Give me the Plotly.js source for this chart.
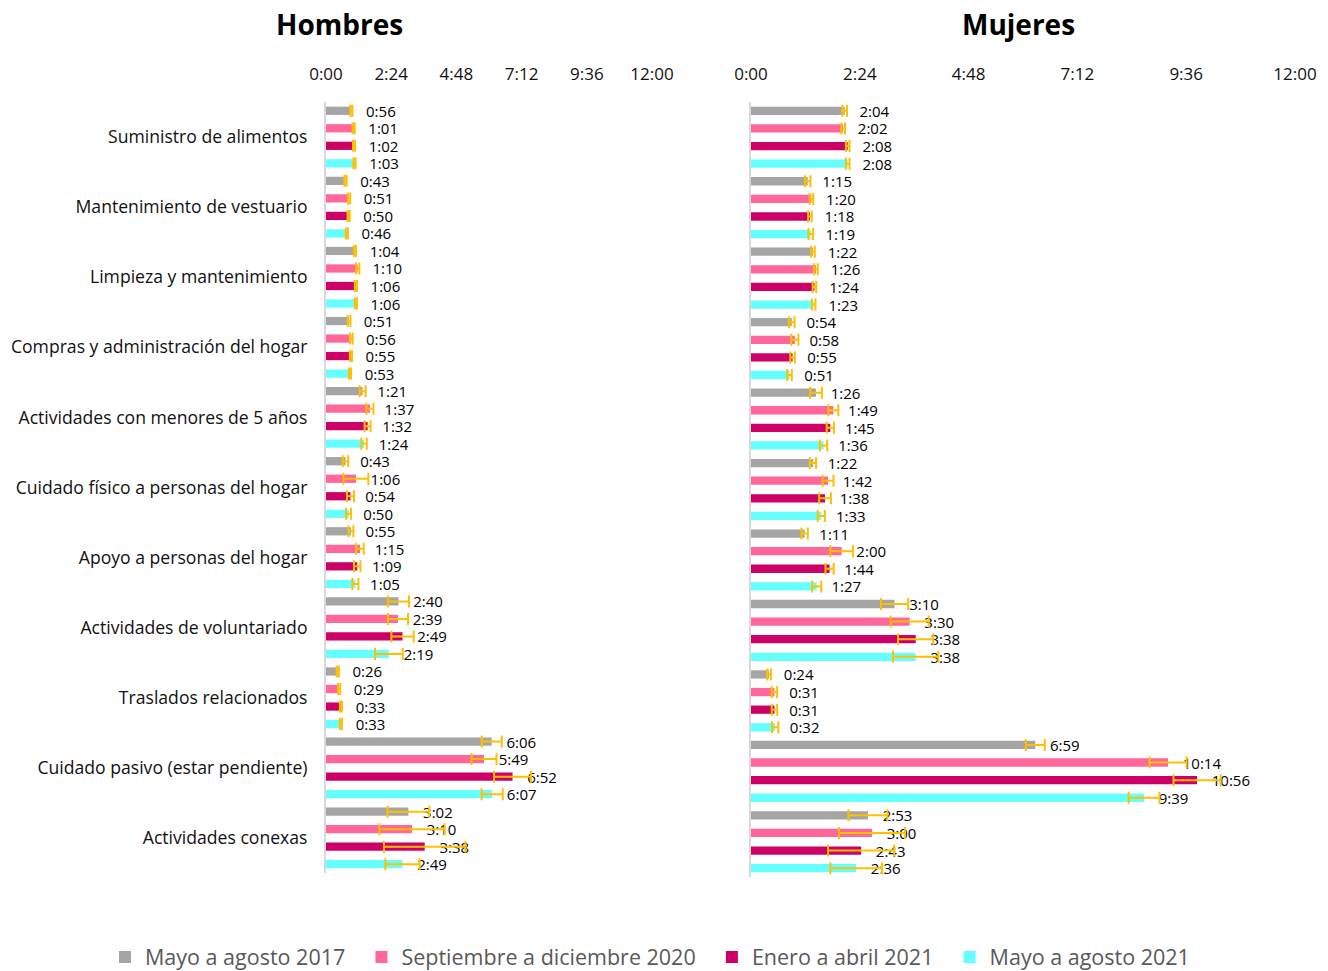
<!DOCTYPE html>
<html>
<head>
<meta charset="utf-8">
<script src="https://cdn.plot.ly/plotly-3.0.1.min.js"></script>
<style>html,body{margin:0;padding:0;background:#fff;}#chart{width:1328px;height:971px;}</style>
</head>
<body>
<div id="chart"></div>
<script>
// ---------- DATA (hours) ----------
const categories = [
  'Suministro de alimentos',
  'Mantenimiento de vestuario',
  'Limpieza y mantenimiento',
  'Compras y administración del hogar',
  'Actividades con menores de 5 años',
  'Cuidado físico a personas del hogar',
  'Apoyo a personas del hogar',
  'Actividades de voluntariado',
  'Traslados relacionados',
  'Cuidado pasivo (estar pendiente)',
  'Actividades conexas'
];
const periods = ['Mayo a agosto 2017', 'Septiembre a diciembre 2020', 'Enero a abril 2021', 'Mayo a agosto 2021'];

const tickVals = [0, 2.4, 4.8, 7.2, 9.6, 12];
const tickText = ['0:00', '2:24', '4:48', '7:12', '9:36', '12:00'];

// Hombres
const hom2017 = [0.933, 0.717, 1.067, 0.85, 1.35, 0.717, 0.917, 2.667, 0.433, 6.1, 3.033];
const hom2020 = [1.017, 0.85, 1.167, 0.933, 1.617, 1.1, 1.25, 2.65, 0.483, 5.817, 3.167];
const hom2021a = [1.033, 0.833, 1.1, 0.917, 1.533, 0.9, 1.15, 2.817, 0.55, 6.867, 3.633];
const hom2021b = [1.05, 0.767, 1.1, 0.883, 1.4, 0.833, 1.083, 2.317, 0.55, 6.117, 2.817];
const homLbl2017 = ['0:56','0:43','1:04','0:51','1:21','0:43','0:55','2:40','0:26','6:06','3:02'];
const homLbl2020 = ['1:01','0:51','1:10','0:56','1:37','1:06','1:15','2:39','0:29','5:49','3:10'];
const homLbl2021a = ['1:02','0:50','1:06','0:55','1:32','0:54','1:09','2:49','0:33','6:52','3:38'];
const homLbl2021b = ['1:03','0:46','1:06','0:53','1:24','0:50','1:05','2:19','0:33','6:07','2:49'];
const homErr2017 = [0.04, 0.04, 0.04, 0.05, 0.11, 0.10, 0.09, 0.39, 0.04, 0.37, 0.77];
const homErr2020 = [0.04, 0.04, 0.06, 0.05, 0.13, 0.46, 0.14, 0.37, 0.04, 0.46, 1.20];
const homErr2021a = [0.04, 0.04, 0.04, 0.04, 0.11, 0.13, 0.12, 0.41, 0.04, 0.68, 1.50];
const homErr2021b = [0.04, 0.04, 0.04, 0.04, 0.10, 0.09, 0.11, 0.51, 0.04, 0.39, 0.63];

// Mujeres
const muj2017 = [2.067, 1.25, 1.367, 0.9, 1.433, 1.367, 1.183, 3.167, 0.4, 6.27, 2.58];
const muj2020 = [2.033, 1.333, 1.433, 0.967, 1.817, 1.7, 2.0, 3.5, 0.517, 9.2, 2.67];
const muj2021a = [2.133, 1.3, 1.4, 0.917, 1.75, 1.633, 1.733, 3.633, 0.517, 9.84, 2.43];
const muj2021b = [2.133, 1.317, 1.383, 0.85, 1.6, 1.55, 1.45, 3.633, 0.533, 8.67, 2.32];
const mujLbl2017 = ['2:04','1:15','1:22','0:54','1:26','1:22','1:11','3:10','0:24','6:59','2:53'];
const mujLbl2020 = ['2:02','1:20','1:26','0:58','1:49','1:42','2:00','3:30','0:31','10:14','3:00'];
const mujLbl2021a = ['2:08','1:18','1:24','0:55','1:45','1:38','1:44','3:38','0:31','10:56','2:43'];
const mujLbl2021b = ['2:08','1:19','1:23','0:51','1:36','1:33','1:27','3:38','0:32','9:39','2:36'];
const mujErr2017 = [0.05, 0.06, 0.04, 0.06, 0.13, 0.07, 0.07, 0.30, 0.04, 0.21, 0.43];
const mujErr2020 = [0.04, 0.04, 0.04, 0.08, 0.11, 0.12, 0.25, 0.42, 0.06, 0.41, 0.73];
const mujErr2021a = [0.04, 0.04, 0.04, 0.05, 0.08, 0.13, 0.09, 0.39, 0.06, 0.52, 0.73];
const mujErr2021b = [0.04, 0.05, 0.04, 0.05, 0.08, 0.08, 0.10, 0.50, 0.07, 0.34, 0.57];

// ---------- STYLE ----------
const colors = ['#A5A5A5', '#FF6699', '#CC0066', '#66FFFF'];
const FONT = 'Open Sans, Noto Sans, sans-serif';
const PAD = '\u00a0\u00a0\u00a0';
const LPAD = '\u00a0\u00a0';

const homSeries = [[hom2017, homLbl2017, homErr2017], [hom2020, homLbl2020, homErr2020], [hom2021a, homLbl2021a, homErr2021a], [hom2021b, homLbl2021b, homErr2021b]];
const mujSeries = [[muj2017, mujLbl2017, mujErr2017], [muj2020, mujLbl2020, mujErr2020], [muj2021a, mujLbl2021a, mujErr2021a], [muj2021b, mujLbl2021b, mujErr2021b]];

function mk(series, i, xa, ya, show) {
  return {
    type: 'bar', orientation: 'h',
    x: series[0], y: categories,
    xaxis: xa, yaxis: ya,
    name: periods[i] + LPAD, showlegend: show, legendgroup: 'g' + i,
    marker: {color: colors[i]},
    text: series[1].map(s => PAD + s),
    textposition: 'outside', constraintext: 'none', cliponaxis: false,
    textfont: {family: FONT, size: 15, color: '#000'},
    hoverinfo: 'x+y',
    error_x: {type: 'data', array: series[2], symmetric: true, color: '#FFC000', thickness: 2, width: 6}
  };
}
const traces = [];
homSeries.forEach((s, i) => traces.push(mk(s, i, 'x', 'y', true)));
mujSeries.forEach((s, i) => traces.push(mk(s, i, 'x2', 'y2', false)));

const W = 1328, H = 971;
const xAxisBase = {
  range: [0, 12], side: 'top', tickvals: tickVals, ticktext: tickText,
  showgrid: false, zeroline: false, showline: false, ticks: '',
  ticklabelstandoff: 18,
  tickfont: {family: FONT, size: 17, color: '#111'}, fixedrange: true
};
const yAxisBase = {
  type: 'category', autorange: false, range: [categories.length - 0.5, -0.5],
  showgrid: false, zeroline: false,
  showline: true, linecolor: '#d9d9d9', linewidth: 2, ticks: '',
  tickfont: {family: FONT, size: 17.6, color: '#111'}, fixedrange: true
};

const layout = {
  width: W, height: H,
  margin: {l: 0, r: 0, t: 0, b: 0, autoexpand: false},
  paper_bgcolor: '#fff', plot_bgcolor: '#fff',
  barmode: 'group', bargap: 0, bargroupgap: 0.53,
  font: {family: FONT},
  xaxis: Object.assign({}, xAxisBase, {domain: [326 / W, 652 / W], anchor: 'y'}),
  xaxis2: Object.assign({}, xAxisBase, {domain: [751 / W, 1295 / W], anchor: 'y2'}),
  yaxis: Object.assign({}, yAxisBase, {domain: [1 - 873 / H, 1 - 102 / H], anchor: 'x', ticklabelstandoff: 13}),
  yaxis2: Object.assign({}, yAxisBase, {domain: [1 - 877 / H, 1 - 102 / H], anchor: 'x2', showticklabels: false}),
  showlegend: true,
  legend: {
    orientation: 'h', x: 105 / W, xanchor: 'left', y: 1 - 957 / H, yanchor: 'middle',
    font: {family: FONT, size: 21.5, color: '#595959'}, traceorder: 'normal',
    itemclick: false, itemdoubleclick: false
  },
  annotations: [
    {text: '<b>Hombres</b>', xref: 'paper', yref: 'paper', x: 339.5 / W, y: 1 - 24 / H, xanchor: 'center', yanchor: 'middle', showarrow: false, font: {family: FONT, size: 28, color: '#000'}},
    {text: '<b>Mujeres</b>', xref: 'paper', yref: 'paper', x: 1018 / W, y: 1 - 24 / H, xanchor: 'center', yanchor: 'middle', showarrow: false, font: {family: FONT, size: 28, color: '#000'}}
  ]
};

Plotly.newPlot('chart', traces, layout, {displayModeBar: false, staticPlot: true});
</script>
</body>
</html>
